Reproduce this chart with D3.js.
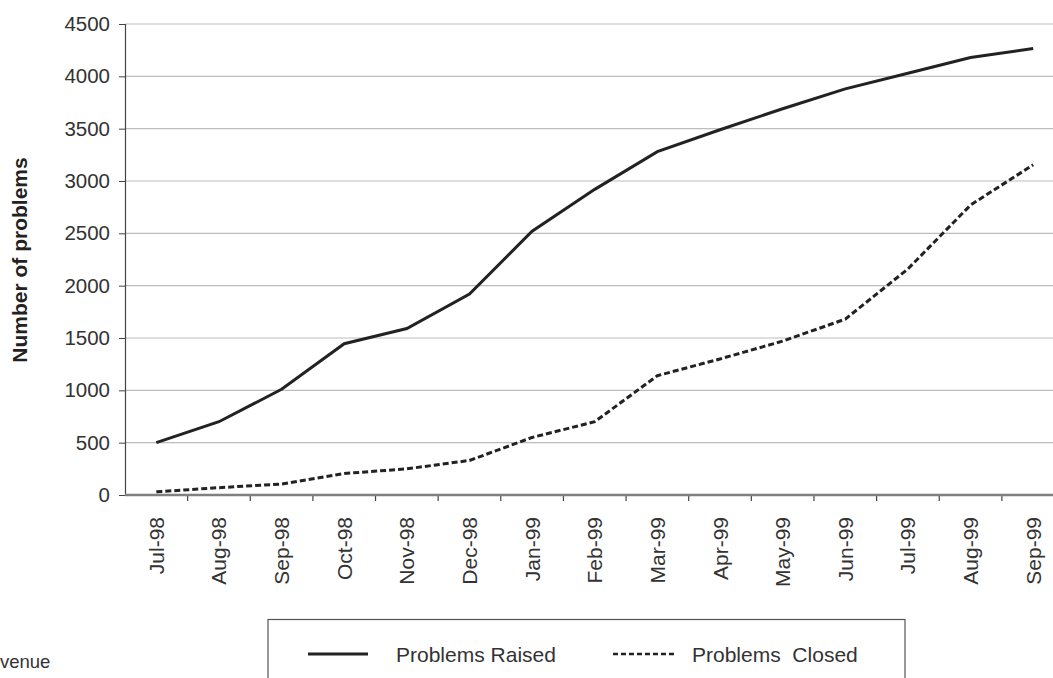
<!DOCTYPE html>
<html>
<head>
<meta charset="utf-8">
<script src="https://cdn.jsdelivr.net/npm/d3@7"></script>
<style>
  html, body { margin: 0; padding: 0; background: #fff; }
  svg { display: block; font-family: "Liberation Sans", Arial, Helvetica, sans-serif; }
</style>
</head>
<body>
<svg id="chart" width="1053" height="678"></svg>
<script>
const months = ["Jul-98","Aug-98","Sep-98","Oct-98","Nov-98","Dec-98","Jan-99","Feb-99","Mar-99","Apr-99","May-99","Jun-99","Jul-99","Aug-99","Sep-99"];
const raised = [500, 700, 1010, 1445, 1590, 1920, 2520, 2920, 3280, 3490, 3690, 3880, 4030, 4180, 4265];
const closed = [30, 70, 105, 205, 250, 330, 550, 700, 1140, 1300, 1470, 1680, 2160, 2770, 3155];
const yTicks = [0, 500, 1000, 1500, 2000, 2500, 3000, 3500, 4000, 4500];
const seriesNames = ["Problems Raised", "Problems  Closed"];

const svg = d3.select("#chart");
const mLeft = 125, mRight = 1064.5, mTop = 24, mBottom = 495;

const x = d3.scaleBand().domain(months).range([mLeft, mRight]);
const y = d3.scaleLinear().domain([0, 4500]).range([mBottom, mTop]);

// gridlines
svg.append("g")
  .selectAll("line")
  .data(yTicks.filter(d => d > 0))
  .join("line")
  .attr("x1", mLeft).attr("x2", 1053)
  .attr("y1", d => y(d)).attr("y2", d => y(d))
  .attr("stroke", "#bdbdbd").attr("stroke-width", 1.2);

// y axis
const yAxis = svg.append("g")
  .attr("transform", `translate(${mLeft},0)`)
  .call(d3.axisLeft(y).tickValues(yTicks).tickSize(6).tickPadding(9).tickFormat(d3.format("d")));
yAxis.select(".domain").attr("stroke", "#444").attr("stroke-width", 1.2);
yAxis.selectAll(".tick line").attr("stroke", "#444");
yAxis.selectAll("text").attr("font-size", 20.5).attr("fill", "#333").attr("font-family", "Liberation Sans, Arial, sans-serif");

// tick marks at band boundaries
svg.append("g").selectAll("line")
  .data(months)
  .join("line")
  .attr("x1", d => x(d) + x.bandwidth()).attr("x2", d => x(d) + x.bandwidth())
  .attr("y1", mBottom).attr("y2", mBottom + 6)
  .attr("stroke", "#444").attr("stroke-width", 1.2);
svg.append("line")
  .attr("x1", mLeft).attr("x2", 1053).attr("y1", mBottom).attr("y2", mBottom)
  .attr("stroke", "#808080").attr("stroke-width", 2.5);

svg.append("g").selectAll("text")
  .data(months)
  .join("text")
  .attr("transform", d => `translate(${x(d) + x.bandwidth() / 2 + 7.5},517) rotate(-90)`)
  .attr("text-anchor", "end")
  .attr("font-size", 21)
  .attr("fill", "#333")
  .text(d => d);

// y label
svg.append("text")
  .attr("transform", `translate(27,260) rotate(-90)`)
  .attr("text-anchor", "middle")
  .attr("font-size", 21)
  .attr("font-weight", "bold")
  .attr("fill", "#222")
  .text("Number of problems");

const line = d3.line()
  .x((d, i) => x(months[i]) + x.bandwidth() / 2)
  .y(d => y(d));

svg.append("path")
  .datum(raised)
  .attr("d", line)
  .attr("fill", "none")
  .attr("stroke", "#222")
  .attr("stroke-width", 3);

svg.append("path")
  .datum(closed)
  .attr("d", line)
  .attr("fill", "none")
  .attr("stroke", "#222")
  .attr("stroke-width", 3)
  .attr("stroke-dasharray", "6,3");

// legend
const lg = svg.append("g");
lg.append("rect")
  .attr("x", 268).attr("y", 619.5).attr("width", 637).attr("height", 80)
  .attr("fill", "#fff").attr("stroke", "#555").attr("stroke-width", 1.2);
lg.append("line").attr("x1", 308).attr("x2", 368).attr("y1", 654).attr("y2", 654)
  .attr("stroke", "#222").attr("stroke-width", 3);
lg.append("text").attr("x", 396).attr("y", 661.5).attr("font-size", 21).attr("fill", "#333").text(seriesNames[0]);
lg.append("line").attr("x1", 613).attr("x2", 674).attr("y1", 654).attr("y2", 654)
  .attr("stroke", "#222").attr("stroke-width", 2.5).attr("stroke-dasharray", "5,3");
lg.append("text").attr("x", 692).attr("y", 661.5).attr("font-size", 21).attr("fill", "#333")
  .style("white-space", "pre").text(seriesNames[1]);

svg.append("text").attr("x", 0).attr("y", 668).attr("font-size", 18.5).attr("fill", "#333").text("venue");
</script>
</body>
</html>
